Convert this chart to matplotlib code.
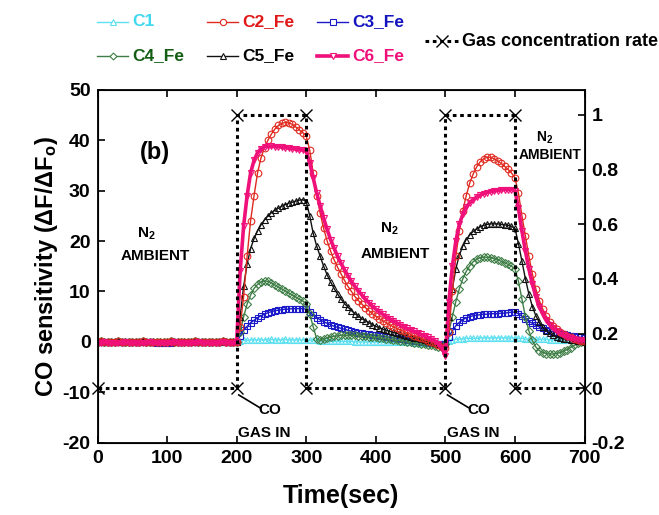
import matplotlib
matplotlib.use("Agg")
import matplotlib.pyplot as plt
from matplotlib.lines import Line2D
import numpy as np

plt.rcParams['font.family'] = ['Liberation Sans', 'DejaVu Sans']
plt.rcParams['mathtext.fontset'] = 'custom'
plt.rcParams['mathtext.rm'] = 'Liberation Sans:bold'
plt.rcParams['mathtext.it'] = 'Liberation Sans:bold'
plt.rcParams['mathtext.bf'] = 'Liberation Sans:bold'
plt.rcParams['axes.unicode_minus'] = False

# time axis (s), 5-s sampling
time = list(range(0, 705, 5))

base0 = [0.0, 0.1, 0.0, -0.1, 0.0, 0.0, 0.1, 0.0, 0.0, -0.1,
         0.0, 0.0, 0.0, 0.1, 0.0, 0.0, -0.1, 0.0, 0.0, 0.0,
         0.0, 0.1, 0.0, 0.0, -0.1, 0.0, 0.0, 0.0, 0.1, 0.0,
         0.0, 0.0, -0.1, 0.0, 0.0, 0.0, 0.1, 0.0, 0.0, 0.0]

c1 = base0 + [
    0.0, 0.2, 0.3, 0.3, 0.4, 0.4, 0.4, 0.4, 0.4, 0.4, 0.5, 0.4, 0.4, 0.4, 0.5, 0.4, 0.4, 0.4, 0.4, 0.4, 0.4,
    0.3, 0.3, 0.3, 0.2, 0.2, 0.2, 0.2, 0.1, 0.1, 0.1, 0.1, 0.1, 0.1, 0.0, 0.0, 0.0, 0.0, 0.0, 0.0, 0.0,
    0.0, 0.0, 0.0, -0.1, -0.1, -0.1, -0.1, -0.1, -0.1, -0.1, -0.2, -0.2, -0.2, -0.2, -0.2, -0.2, -0.2, -0.2, -0.2,
    -0.2, 0.2, 0.4, 0.5, 0.6, 0.6, 0.7, 0.7, 0.7, 0.7, 0.8, 0.8, 0.8, 0.8, 0.8, 0.8, 0.8, 0.8, 0.8, 0.8, 0.8,
    0.7, 0.7, 0.6, 0.6, 0.6, 0.5, 0.5, 0.5, 0.5, 0.4, 0.4, 0.4, 0.4, 0.4, 0.3, 0.3, 0.3, 0.3, 0.3, 0.3]

c2 = base0 + [
    0.0, 3.0, 9.0, 17.0, 24.0, 29.0, 33.5, 36.5, 38.5, 40.0, 41.2, 42.2, 42.9, 43.3, 43.5, 43.4, 43.1, 42.6, 42.0, 41.5, 40.8,
    38.0, 33.5, 29.0, 25.5, 22.5, 20.0, 18.0, 16.3, 14.8, 13.5, 12.2, 11.0, 10.0, 9.0, 8.2, 7.5, 6.8, 6.2, 5.6,
    5.1, 4.6, 4.2, 3.8, 3.4, 3.0, 2.7, 2.4, 2.1, 1.8, 1.5, 1.2, 1.0, 0.7, 0.5, 0.2, 0.0, -0.3, -0.6, -1.0,
    -1.2, 2.0, 10.0, 17.0, 22.0, 26.0, 29.0, 31.5, 33.3, 34.7, 35.7, 36.3, 36.6, 36.6, 36.3, 35.9, 35.4, 34.8, 34.2, 33.5, 32.5,
    29.5, 25.0, 21.0, 17.0, 13.5, 10.5, 8.2, 6.5, 5.1, 4.0, 3.2, 2.6, 2.0, 1.6, 1.2, 0.9, 0.6, 0.4, 0.2, 0.1]

c3 = [0.0, 0.0, 0.0, -0.1, 0.0, 0.0, 0.0, 0.0, 0.0, 0.0,
      0.0, 0.0, 0.0, 0.0, 0.0, 0.0, 0.0, -0.2, -0.3, -0.3,
      -0.3, -0.2, 0.0, 0.0, 0.0, 0.0, 0.0, 0.0, 0.0, 0.0,
      0.0, 0.0, 0.0, 0.0, 0.0, 0.0, 0.0, 0.0, 0.0, 0.0] + [
    0.0, 1.2, 2.3, 3.1, 3.8, 4.3, 4.8, 5.2, 5.5, 5.8, 6.0, 6.2, 6.3, 6.4, 6.5, 6.5, 6.6, 6.6, 6.6, 6.6, 6.5,
    5.9, 5.3, 4.8, 4.4, 4.0, 3.7, 3.4, 3.1, 2.9, 2.7, 2.5, 2.3, 2.1, 2.0, 1.8, 1.7, 1.6, 1.5, 1.4,
    1.3, 1.2, 1.1, 1.0, 0.9, 0.8, 0.7, 0.6, 0.5, 0.4, 0.3, 0.2, 0.1, 0.0, -0.1, -0.2, -0.3, -0.4, -0.5, -0.6,
    -0.5, 1.0, 2.2, 3.2, 3.9, 4.4, 4.8, 5.0, 5.2, 5.3, 5.4, 5.5, 5.5, 5.6, 5.6, 5.6, 5.7, 5.7, 5.8, 5.9, 5.9,
    5.6, 5.1, 4.6, 4.1, 3.7, 3.3, 3.0, 2.7, 2.4, 2.2, 2.0, 1.8, 1.6, 1.5, 1.3, 1.2, 1.1, 1.0, 0.9, 0.8]

c4 = base0 + [
    0.0, 2.0, 5.0, 7.5, 9.3, 10.6, 11.4, 11.9, 12.1, 12.0, 11.7, 11.3, 10.9, 10.5, 10.1, 9.7, 9.3, 8.9, 8.5, 8.1, 7.6,
    5.5, 3.0, 0.6, 0.3, 0.5, 0.8, 1.0, 1.1, 1.2, 1.3, 1.3, 1.3, 1.3, 1.3, 1.2, 1.2, 1.1, 1.0, 1.0,
    0.9, 0.8, 0.7, 0.6, 0.5, 0.4, 0.3, 0.2, 0.1, 0.0, -0.1, -0.2, -0.3, -0.4, -0.5, -0.6, -0.7, -0.8, -0.9, -1.0,
    -0.5, 2.0, 5.0, 8.0, 10.5, 12.5, 14.0, 15.1, 15.9, 16.4, 16.7, 16.8, 16.8, 16.7, 16.5, 16.3, 16.0, 15.7, 15.4, 15.0, 14.5,
    12.0, 8.5, 5.0, 2.2, 0.3, -1.0, -1.7, -2.1, -2.3, -2.4, -2.4, -2.3, -2.1, -1.8, -1.5, -1.1, -0.7, -0.3, 0.0, 0.2]

c5 = base0 + [
    0.0, 5.0, 11.0, 15.5, 18.5, 20.5, 22.0, 23.2, 24.2, 25.0, 25.6, 26.1, 26.5, 26.9, 27.2, 27.5, 27.7, 27.9, 28.1, 28.2, 27.8,
    25.0, 21.5, 19.0, 17.0, 15.0, 13.3, 11.9, 10.6, 9.5, 8.5, 7.6, 6.9, 6.2, 5.6, 5.1, 4.6, 4.2, 3.8, 3.4,
    3.1, 2.8, 2.5, 2.3, 2.1, 1.9, 1.7, 1.5, 1.3, 1.2, 1.0, 0.8, 0.7, 0.5, 0.3, 0.2, 0.0, -0.2, -0.5, -0.8,
    -0.5, 5.0, 10.5, 14.5, 17.2, 19.0, 20.3, 21.2, 21.9, 22.4, 22.8, 23.1, 23.3, 23.4, 23.4, 23.4, 23.3, 23.2, 23.1, 22.9, 22.5,
    19.5, 16.0, 12.5, 9.5, 7.0, 5.2, 3.9, 2.9, 2.2, 1.7, 1.3, 1.0, 0.8, 0.6, 0.5, 0.4, 0.3, 0.2, 0.1, 0.0]

c6 = [-0.2, -0.2, -0.1, -0.2, -0.2, -0.3, -0.2, -0.2, -0.1, -0.2,
      -0.2, -0.2, -0.3, -0.2, -0.2, -0.1, -0.2, -0.2, -0.2, -0.3,
      -0.2, -0.2, -0.1, -0.2, -0.2, -0.2, -0.3, -0.2, -0.2, -0.1,
      -0.2, -0.2, -0.2, -0.3, -0.2, -0.2, -0.1, -0.2, -0.2, -0.2] + [
    0.0, 14.0, 23.0, 29.0, 33.5, 36.0, 37.5, 38.3, 38.7, 38.8, 38.8, 38.7, 38.7, 38.6, 38.5, 38.4, 38.3, 38.2, 38.1, 38.0, 37.8,
    35.5, 32.5, 29.5, 27.0, 24.5, 22.3, 20.3, 18.6, 17.0, 15.6, 14.3, 13.1, 12.0, 11.0, 10.1, 9.3, 8.5, 7.8, 7.1,
    6.5, 6.0, 5.5, 5.0, 4.6, 4.2, 3.8, 3.4, 3.0, 2.7, 2.4, 2.1, 1.8, 1.5, 1.2, 0.9, 0.6, 0.2, -0.4, -1.2,
    -2.8, 8.0, 15.0, 20.0, 23.3, 25.3, 26.7, 27.6, 28.2, 28.7, 29.1, 29.4, 29.6, 29.8, 29.9, 30.0, 30.1, 30.2, 30.2, 30.2, 30.0,
    26.5, 22.0, 18.0, 14.5, 11.5, 9.0, 7.0, 5.5, 4.3, 3.4, 2.7, 2.1, 1.7, 1.3, 1.0, 0.8, 0.6, 0.4, 0.3, 0.2]

gas_time = [0, 200, 200, 300, 300, 500, 500, 600, 600, 700]
gas_rate = [0, 0, 1, 1, 0, 0, 1, 1, 0, 0]

x_ticks = [0, 100, 200, 300, 400, 500, 600, 700]
y_ticks = [-20, -10, 0, 10, 20, 30, 40, 50]
y2_ticks = [-0.2, 0, 0.2, 0.4, 0.6, 0.8, 1]
y2_labels = ['-0.2', '0', '0.2', '0.4', '0.6', '0.8', '1']

series = [
    ('C1', c1, '#5FE0F0', '#3FD8EE', '^', 1.0),
    ('C2_Fe', c2, '#E02A20', '#E01818', 'o', 1.0),
    ('C3_Fe', c3, '#1A1AC8', '#1414C0', 's', 1.0),
    ('C4_Fe', c4, '#3E7E46', '#145E14', 'D', 1.0),
    ('C5_Fe', c5, '#111111', '#000000', '^', 1.0),
    ('C6_Fe', c6, '#F0107A', '#F0107A', 'v', 2.6),
]
lens = {s[0]: len(s[1]) for s in series}
if any(v != len(time) for v in lens.values()):
    raise ValueError('length mismatch: %r vs %d' % (lens, len(time)))

fig = plt.figure(figsize=(6.59, 5.15), dpi=100)
ax = fig.add_axes([0.148, 0.14, 0.739, 0.686])

draw_order = ['C1', 'C3_Fe', 'C4_Fe', 'C5_Fe', 'C2_Fe', 'C6_Fe']
lookup = {s[0]: s for s in series}
for name in draw_order:
    n, vals, col, tcol, mk, lw = lookup[name]
    ms = 4.8 if mk != 'D' else 3.8
    ax.plot(time, vals, color=col, lw=lw, marker=mk, ms=ms, mfc='none',
            mec=col, mew=0.8, zorder=3)

ax.set_xlim(0, 700)
ax.set_ylim(-20, 50)
ax.set_xticks(x_ticks)
ax.set_yticks(y_ticks)
ax.tick_params(direction='in', top=True, right=False, length=5, width=1.2,
               labelsize=14, pad=5)
for lab in ax.get_xticklabels() + ax.get_yticklabels():
    lab.set_fontweight('bold')
for sp in ax.spines.values():
    sp.set_linewidth(1.3)

ax.set_xlabel('Time(sec)', fontsize=18, fontweight='bold', labelpad=12)
ax.set_ylabel(r'CO sensitivity ($\Delta$F/$\Delta$F$_\mathrm{o}$)', fontsize=17,
              fontweight='bold', labelpad=2)

ax2 = ax.twinx()
ax2.set_ylim(-0.2, 1.0923)
ax2.set_yticks(y2_ticks)
ax2.set_yticklabels(y2_labels)
ax2.tick_params(direction='in', length=5, width=1.2, labelsize=14, pad=5)
for lab in ax2.get_yticklabels():
    lab.set_fontweight('bold')
ax2.plot(gas_time, gas_rate, color='black', ls=(0, (1.2, 1.2)), lw=2.2,
         marker='x', ms=8, mew=1.0, zorder=4, clip_on=False)

# annotations
ax.text(83, 37.5, '(b)', fontsize=17, fontweight='bold', ha='center', va='center')
ax.text(70, 21.5, r'N$_2$', fontsize=11, fontweight='bold', ha='center', va='center')
ax.text(83, 17.0, 'AMBIENT', fontsize=11, fontweight='bold', ha='center', va='center')
ax.text(420, 22.5, r'N$_2$', fontsize=11, fontweight='bold', ha='center', va='center')
ax.text(428, 17.5, 'AMBIENT', fontsize=11, fontweight='bold', ha='center', va='center')
ax.text(643, 40.5, r'N$_2$', fontsize=10, fontweight='bold', ha='center', va='center')
ax.text(650, 37.0, 'AMBIENT', fontsize=10, fontweight='bold', ha='center', va='center')
for t0 in (200, 500):
    ax.plot([t0 + 3, t0 + 33], [-10.5, -13.0], color='black', lw=1.2)
    ax.text(t0 + 48, -13.5, 'CO', fontsize=11, fontweight='bold', ha='center', va='center')
    ax.text(t0 + 40, -18.0, 'GAS IN', fontsize=11, fontweight='bold', ha='center', va='center')

# custom legend (figure pixel positions)
W, H = 659.0, 515.0
def fx(px):
    return px / W
def fy(py):
    return 1 - py / H

legend_pos = {
    'C1': (97, 22), 'C2_Fe': (207, 22), 'C3_Fe': (317, 22),
    'C4_Fe': (97, 56), 'C5_Fe': (207, 56), 'C6_Fe': (317, 56),
}
for n, vals, col, tcol, mk, lw in series:
    x0, y0 = legend_pos[n]
    fig.add_artist(Line2D([fx(x0), fx(x0 + 31)], [fy(y0), fy(y0)], color=col,
                          lw=lw, transform=fig.transFigure))
    fig.add_artist(Line2D([fx(x0 + 15.5)], [fy(y0)], color=col, marker=mk,
                          ms=4.5 if mk != 'D' else 3.5, mfc='white', mec=col,
                          mew=0.8, transform=fig.transFigure))
    fig.text(fx(x0 + 35), fy(y0), n, color=tcol, fontsize=12.5, fontweight='bold',
             ha='left', va='center')

gx, gy = 425, 41
fig.add_artist(Line2D([fx(gx), fx(gx + 34)], [fy(gy), fy(gy)], color='black',
                      ls=(0, (1.2, 1.2)), lw=2.2, transform=fig.transFigure))
fig.add_artist(Line2D([fx(gx + 17)], [fy(gy)], color='black', marker='x', ms=8,
                      mew=1.0, transform=fig.transFigure))
fig.text(fx(gx + 37), fy(gy), 'Gas concentration rate', color='black', fontsize=13,
         fontweight='bold', ha='left', va='center')

fig.savefig('out.png', dpi=100)
